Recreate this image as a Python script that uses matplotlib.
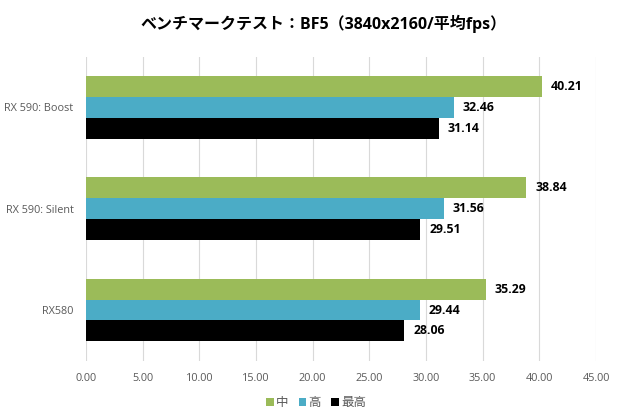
import matplotlib
matplotlib.use("Agg")
import matplotlib.pyplot as plt
import numpy as np
from matplotlib.patches import Patch

plt.rcParams['font.family'] = ['Open Sans', 'Noto Sans CJK JP', 'DejaVu Sans']

categories = ["RX 590: Boost", "RX 590: Silent", "RX580"]
series_names = ["中", "高", "最高"]
val_mid = [40.21, 38.84, 35.29]
val_high = [32.46, 31.56, 29.44]
val_max = [31.14, 29.51, 28.06]
colors = ["#9BBB59", "#4BACC6", "#000000"]
xticks = [0, 5, 10, 15, 20, 25, 30, 35, 40, 45]

fig = plt.figure(figsize=(6.2, 4.15), dpi=100)
ax = fig.add_axes([0.1387, 0.131, 0.8226, 0.732])

n = len(categories)
y = np.arange(n)
h = 0.207
all_vals = [val_mid, val_high, val_max]
for i, (vals, c, name) in enumerate(zip(all_vals, colors, series_names)):
    pos = y + (i - 1) * h
    bars = ax.barh(pos, vals, height=h, color=c, label=name, zorder=3)
    for b, v in zip(bars, vals):
        ax.annotate(f"{v:.2f}", (v, b.get_y() + b.get_height() / 2),
                    xytext=(6.5, 0), textcoords="offset points",
                    ha="left", va="center", fontsize=8.8, fontweight="bold",
                    color="#000000")

ax.set_ylim(n - 0.5, -0.5)
ax.set_xlim(0, 45)
ax.set_xticks(xticks)
ax.set_xticklabels([f"{t:.2f}" for t in xticks], fontsize=7.8, color="#595959")
ax.set_yticks(y)
ax.set_yticklabels(categories, fontsize=7.8, color="#595959")
ax.tick_params(axis='both', length=0, pad=9)
ax.tick_params(axis='y', pad=9)
ax.grid(axis='x', color="#D9D9D9", linewidth=0.8, zorder=0)
for s in ax.spines.values():
    s.set_visible(False)

fig.suptitle("ベンチマークテスト：BF5（3840x2160/平均fps）", x=0.522, y=0.965,
             fontsize=11.5, fontweight="bold")

handles = [Patch(facecolor=c, label=nm) for c, nm in zip(colors, series_names)]
fig.legend(handles=handles, loc="center", bbox_to_anchor=(0.51, 0.03), ncol=3,
           frameon=False, fontsize=9, handlelength=0.6, handleheight=0.6,
           handletextpad=0.2, columnspacing=0.8, labelcolor="#595959")

fig.savefig("out.png", dpi=100)
